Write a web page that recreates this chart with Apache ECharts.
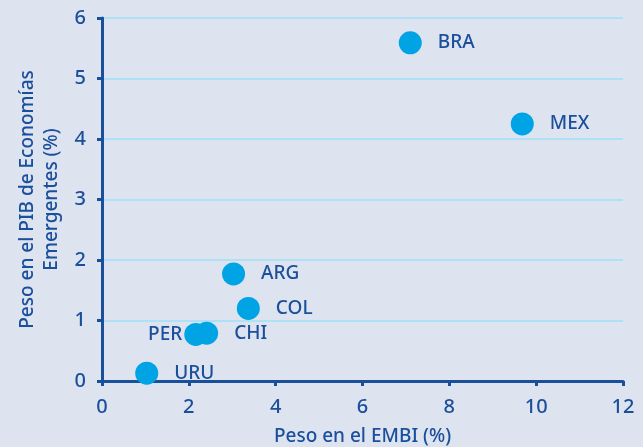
<!DOCTYPE html>
<html>
<head>
<meta charset="utf-8">
<script src="https://cdn.jsdelivr.net/npm/echarts@6/dist/echarts.min.js"></script>
<style>
  html, body { margin: 0; padding: 0; background: #dee3f0; }
  #chart { width: 643px; height: 447px; }
</style>
</head>
<body>
<div id="chart"></div>
<script>
// datos
const countries = ['BRA', 'MEX', 'ARG', 'COL', 'PER', 'CHI', 'URU']
const embiWeight = [7.1, 9.68, 3.03, 3.37, 2.16, 2.41, 1.03]
const gdpWeight = [5.59, 4.25, 1.77, 1.2, 0.77, 0.79, 0.13]
const labelLeft = ['PER']

const axisColor = '#1a4f9c'
const fontFamily = '"Noto Sans", "Open Sans", sans-serif'

const chart = echarts.init(document.getElementById('chart'))

const seriesData = countries.map((name, i) => {
  return {
    name: name,
    value: [embiWeight[i], gdpWeight[i]],
    label: {
      position: labelLeft.includes(name) ? 'left' : 'right',
      distance: labelLeft.includes(name) ? 2 : 16
    }
  }
})

chart.setOption({
  backgroundColor: '#dee3f0',
  animation: false,
  grid: {
    left: 102,
    right: 20,
    top: 18,
    bottom: 66,
    containLabel: false,
    outerBoundsMode: 'none'
  },
  xAxis: {
    type: 'value',
    min: 0,
    max: 12,
    interval: 2,
    name: 'Peso en el EMBI (%)',
    nameLocation: 'middle',
    nameGap: 46,
    nameTextStyle: { color: axisColor, fontSize: 19, fontWeight: 500, fontFamily: fontFamily },
    axisLine: { show: true, lineStyle: { color: axisColor, width: 3 } },
    axisTick: { show: true, length: 5, lineStyle: { color: axisColor, width: 3 } },
    axisLabel: { color: axisColor, fontSize: 20, fontWeight: 500, fontFamily: fontFamily, margin: 16 },
    splitLine: { show: false }
  },
  yAxis: {
    type: 'value',
    min: 0,
    max: 6,
    interval: 1,
    name: 'Peso en el PIB de Economías\nEmergentes (%)',
    nameLocation: 'middle',
    nameGap: 38,
    nameTextStyle: { color: axisColor, fontSize: 19, fontWeight: 500, fontFamily: fontFamily, lineHeight: 24 },
    axisLine: { show: true, lineStyle: { color: axisColor, width: 3 } },
    axisTick: { show: true, length: 5, lineStyle: { color: axisColor, width: 3 } },
    axisLabel: { color: axisColor, fontSize: 20, fontWeight: 500, fontFamily: fontFamily, margin: 16 },
    splitLine: { show: true, lineStyle: { color: '#aee0f6', width: 2 } }
  },
  series: [
    {
      type: 'scatter',
      symbolSize: 23,
      itemStyle: { color: '#00a3e3', opacity: 1 },
      label: {
        show: true,
        formatter: '{b}',
        color: axisColor,
        fontSize: 19,
        fontWeight: 500,
        fontFamily: fontFamily
      },
      data: seriesData
    }
  ]
})
</script>
</body>
</html>
